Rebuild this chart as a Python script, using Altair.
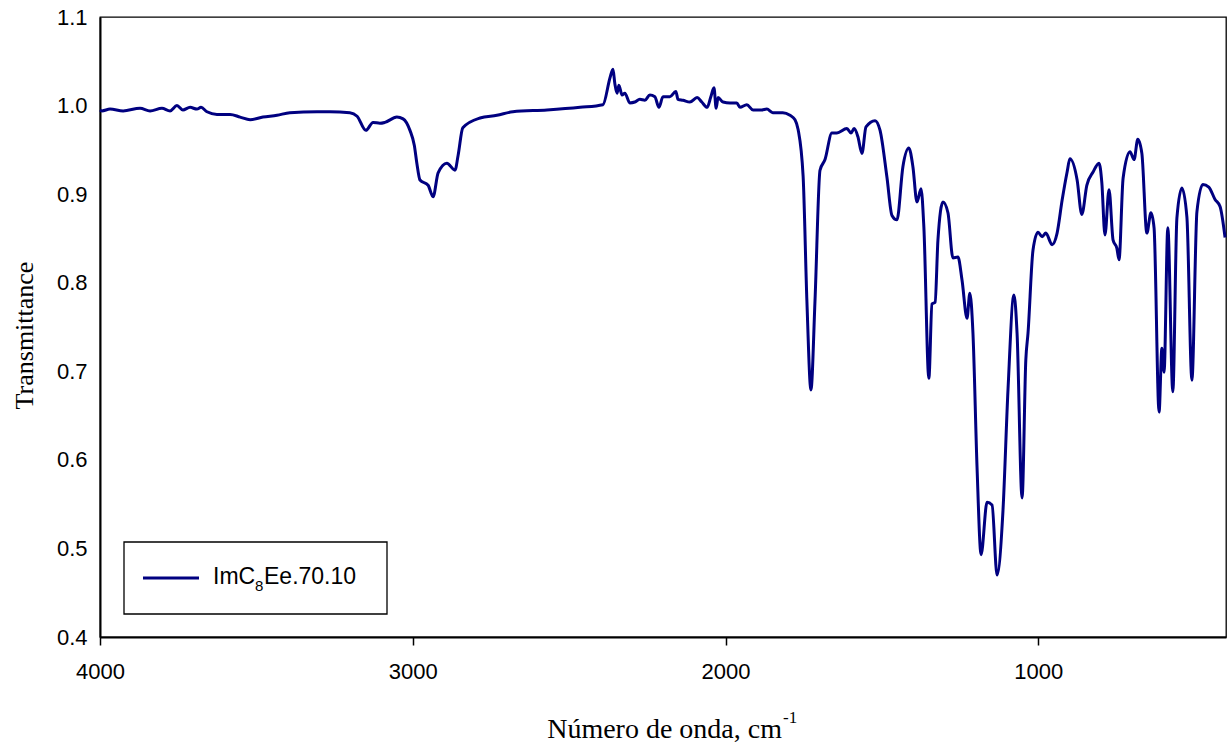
import altair as alt
import pandas as pd

# ---- data ----
wavenumber = [
    4000, 3994, 3968, 3926, 3872, 3840, 3802, 3776, 3754, 3735, 3712, 3690, 3677, 3658,
    3626, 3584, 3552, 3520, 3479, 3434, 3393, 3306, 3265, 3201, 3178, 3150, 3127, 3105,
    3089, 3051, 3031, 3009, 2995, 2987, 2977, 2951, 2935, 2919, 2891, 2865, 2855, 2840,
    2785, 2731, 2680, 2571, 2465, 2392, 2369, 2360, 2354, 2347, 2341, 2331, 2322, 2306,
    2290, 2274, 2258, 2242, 2226, 2213, 2200, 2178, 2159, 2152, 2136, 2114, 2091, 2076,
    2059, 2047, 2037, 2030, 2024, 2008, 1986, 1964, 1954, 1932, 1912, 1884, 1868, 1849,
    1817, 1794, 1778, 1768, 1752, 1740, 1727, 1714, 1698, 1682, 1660, 1644, 1612, 1599,
    1589, 1577, 1564, 1551, 1522, 1506, 1484, 1468, 1452, 1433, 1414, 1401, 1388, 1375,
    1366, 1350, 1340, 1330, 1321, 1305, 1289, 1273, 1257, 1244, 1228, 1219, 1209, 1196,
    1183, 1164, 1148, 1132, 1113, 1097, 1078, 1068, 1052, 1040, 1033, 1017, 1001, 988,
    976, 956, 940, 924, 908, 899, 876, 861, 845, 825, 806, 797, 787, 774, 761, 749, 742,
    729, 707, 694, 682, 669, 653, 640, 630, 614, 605, 598, 586, 570, 557, 541, 525, 509,
    493, 474, 455, 435, 419, 403,
]
transmittance = [
    0.995, 0.994, 0.996, 0.994, 0.997, 0.994, 0.997, 0.994, 1.000, 0.995, 0.998, 0.996, 0.998, 0.993,
    0.990, 0.990, 0.987, 0.984, 0.987, 0.989, 0.992, 0.993, 0.993, 0.992, 0.988, 0.972, 0.981, 0.980,
    0.981, 0.987, 0.985, 0.972, 0.955, 0.935, 0.916, 0.910, 0.897, 0.924, 0.935, 0.927, 0.944, 0.975,
    0.986, 0.989, 0.993, 0.995, 0.998, 1.001, 1.032, 1.041, 1.025, 1.014, 1.023, 1.012, 1.014, 1.003,
    1.004, 1.007, 1.006, 1.012, 1.010, 0.998, 1.010, 1.010, 1.016, 1.007, 1.006, 1.004, 1.009, 1.004,
    0.998, 1.010, 1.020, 0.997, 1.009, 1.004, 1.003, 1.003, 0.998, 1.001, 0.995, 0.995, 0.996, 0.992,
    0.992, 0.989, 0.984, 0.973, 0.920, 0.780, 0.679, 0.780, 0.927, 0.939, 0.969, 0.969, 0.974, 0.969,
    0.974, 0.965, 0.946, 0.976, 0.983, 0.972, 0.919, 0.876, 0.871, 0.931, 0.952, 0.931, 0.891, 0.906,
    0.863, 0.692, 0.776, 0.778, 0.848, 0.891, 0.879, 0.828, 0.829, 0.803, 0.760, 0.788, 0.743, 0.592,
    0.493, 0.552, 0.549, 0.470, 0.543, 0.679, 0.786, 0.743, 0.557, 0.713, 0.743, 0.837, 0.857, 0.852,
    0.856, 0.843, 0.856, 0.893, 0.925, 0.940, 0.916, 0.877, 0.910, 0.925, 0.935, 0.913, 0.854, 0.905, 0.848, 0.839, 0.826,
    0.918, 0.948, 0.939, 0.962, 0.946, 0.856, 0.879, 0.862, 0.654, 0.726, 0.699, 0.862, 0.677, 0.873, 0.907, 0.874, 0.690,
    0.880, 0.911, 0.908, 0.894, 0.886, 0.851,
]
x_ticks = [4000, 3000, 2000, 1000]
y_ticks = [0.4, 0.5, 0.6, 0.7, 0.8, 0.9, 1.0, 1.1]
series_name = ["ImC", "8", "Ee.70.10"]
x_title = ["Número de onda, cm", "-1"]
y_title = "Transmittance"

NAVY = "#000080"
SANS = "Liberation Sans"
SERIF = "Liberation Serif"

df = pd.DataFrame({"wn": wavenumber, "T": transmittance})

line = alt.Chart(df).mark_line(color=NAVY, strokeWidth=3, interpolate="monotone").encode(
    x=alt.X(
        "wn:Q",
        scale=alt.Scale(domain=[400, 4000], reverse=True, nice=False, zero=False),
        axis=alt.Axis(
            values=x_ticks, format="d", title=None, grid=False,
            tickSize=8, tickColor="black", tickWidth=1.5,
            domainColor="black", domainWidth=2,
            labelFont=SANS, labelFontSize=22, labelColor="black",
            labelPadding=16, labelFlush=False, labelOverlap=False,
        ),
    ),
    y=alt.Y(
        "T:Q",
        scale=alt.Scale(domain=[0.4, 1.1], nice=False, zero=False),
        axis=alt.Axis(
            values=y_ticks, format=".1f", title=y_title, grid=False,
            ticks=False, domainColor="black", domainWidth=2,
            labelFont=SANS, labelFontSize=22, labelColor="black",
            labelPadding=13, labelFlush=False, labelOverlap=False,
            titleFont=SERIF, titleFontSize=26, titleFontWeight="normal", titleColor="black",
            titleX=-76, titleY=318, titleAngle=270, titleAlign="center", titleBaseline="middle",
        ),
    ),
)

one = pd.DataFrame({"k": [0]})

legend_box = alt.Chart(one).mark_rect(fill="white", stroke="black", strokeWidth=1.3).encode(
    x=alt.value(24), x2=alt.value(287), y=alt.value(525), y2=alt.value(597)
)
legend_line = alt.Chart(one).mark_rule(color=NAVY, strokeWidth=3).encode(
    x=alt.value(43), x2=alt.value(99), y=alt.value(561)
)
leg1 = alt.Chart(pd.DataFrame({"t": [series_name[0]]})).mark_text(
    font=SANS, fontSize=23, align="left", baseline="alphabetic", color="black"
).encode(text="t:N", x=alt.value(113), y=alt.value(567))
leg2 = alt.Chart(pd.DataFrame({"t": [series_name[1]]})).mark_text(
    font=SANS, fontSize=15, align="left", baseline="alphabetic", color="black"
).encode(text="t:N", x=alt.value(155), y=alt.value(574))
leg3 = alt.Chart(pd.DataFrame({"t": [series_name[2]]})).mark_text(
    font=SANS, fontSize=23, align="left", baseline="alphabetic", color="black"
).encode(text="t:N", x=alt.value(164), y=alt.value(567))

xt1 = alt.Chart(pd.DataFrame({"t": [x_title[0]]})).mark_text(
    font=SERIF, fontSize=28, align="right", baseline="alphabetic", color="black"
).encode(text="t:N", x=alt.value(682), y=alt.value(721))
xt2 = alt.Chart(pd.DataFrame({"t": [x_title[1]]})).mark_text(
    font=SERIF, fontSize=17, align="left", baseline="alphabetic", color="black"
).encode(text="t:N", x=alt.value(683), y=alt.value(706))

chart = alt.layer(line, legend_box, legend_line, leg1, leg2, leg3, xt1, xt2).properties(
    width=1126,
    height=620,
    padding={"left": 100, "top": 17, "right": 5, "bottom": 112},
    autosize=alt.AutoSizeParams(type="none"),
    background="white",
).configure_view(stroke="black", strokeWidth=1.3)

chart.save("out.html", embed_options={"renderer": "svg", "actions": False})
